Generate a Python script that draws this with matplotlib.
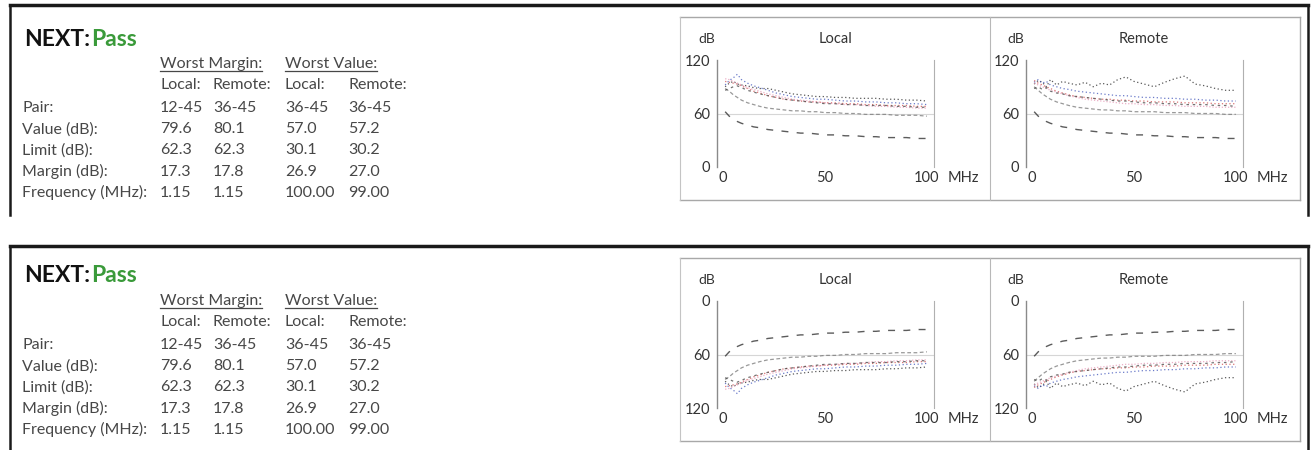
import matplotlib
matplotlib.use("Agg")
import matplotlib.pyplot as plt
from matplotlib.lines import Line2D

plt.rcParams['font.family'] = ['Lato', 'DejaVu Sans']

# ---------- data ----------
freq = [1, 3, 5, 7, 9, 12, 15, 18, 22, 26, 30, 34, 38, 42, 46, 50,
        55, 60, 65, 70, 75, 80, 85, 90, 95, 100]

next_limit = [62, 57, 54, 51, 49, 47, 45, 44, 42, 41, 40, 39, 38, 38, 37, 36,
              36, 35, 35, 34, 34, 33, 33, 33, 32, 32]

pairs = ["12-36", "12-45", "12-78", "36-45", "36-78", "45-78"]

local_12_36 = [90, 94, 96, 93, 92, 91, 89, 88, 88, 86, 84, 82, 81, 80, 79, 79,
               78, 78, 77, 77, 77, 76, 76, 75, 75, 74]
local_12_45 = [92, 97, 100, 104, 98, 94, 91, 89, 86, 83, 81, 79, 78, 77, 76, 76,
               75, 74, 74, 73, 73, 72, 72, 71, 71, 70]
local_12_78 = [96, 95, 94, 93, 91, 88, 85, 83, 80, 78, 76, 75, 74, 73, 73, 72,
               72, 71, 71, 70, 70, 69, 69, 69, 68, 68]
local_36_45 = [99, 98, 96, 94, 92, 89, 87, 85, 82, 80, 78, 76, 75, 74, 73, 72,
               71, 70, 70, 69, 68, 68, 67, 67, 66, 66]
local_36_78 = [88, 85, 81, 78, 75, 72, 70, 68, 66, 65, 64, 63, 63, 62, 62, 61,
               61, 60, 60, 59, 59, 59, 58, 58, 58, 57]
local_45_78 = [86, 88, 90, 91, 89, 86, 84, 82, 80, 78, 76, 75, 74, 73, 72, 71,
               71, 70, 70, 69, 69, 69, 68, 68, 67, 67]

remote_12_36 = [93, 97, 95, 90, 98, 92, 96, 94, 92, 95, 90, 94, 92, 98, 101, 96,
                93, 90, 95, 99, 102, 93, 91, 88, 86, 86]
remote_12_45 = [95, 98, 94, 96, 92, 90, 88, 87, 85, 84, 83, 82, 81, 80, 80, 79,
                78, 78, 77, 77, 76, 76, 75, 75, 74, 74]
remote_12_78 = [97, 94, 92, 90, 88, 85, 83, 81, 79, 78, 77, 76, 76, 75, 75, 74,
                74, 73, 73, 73, 72, 72, 72, 71, 71, 71]
remote_36_45 = [94, 92, 90, 88, 86, 84, 82, 80, 78, 76, 75, 74, 73, 72, 71, 71,
                70, 70, 69, 69, 68, 68, 68, 67, 67, 67]
remote_36_78 = [90, 86, 82, 79, 76, 73, 71, 69, 67, 66, 65, 64, 64, 63, 63, 62,
                62, 62, 61, 61, 61, 60, 60, 60, 59, 59]
remote_45_78 = [88, 90, 87, 89, 85, 83, 82, 80, 79, 78, 77, 76, 75, 74, 74, 73,
                72, 72, 71, 71, 70, 70, 70, 69, 69, 68]

local_traces = [local_12_36, local_12_45, local_12_78, local_36_45, local_36_78, local_45_78]
remote_traces = [remote_12_36, remote_12_45, remote_12_78, remote_36_45, remote_36_78, remote_45_78]

# summary table
row_labels = ["Pair:", "Value (dB):", "Limit (dB):", "Margin (dB):", "Frequency (MHz):"]
margin_local = ["12-45", "79.6", "62.3", "17.3", "1.15"]
margin_remote = ["36-45", "80.1", "62.3", "17.8", "1.15"]
value_local = ["36-45", "57.0", "30.1", "26.9", "100.00"]
value_remote = ["36-45", "57.2", "30.2", "27.0", "99.00"]

# trace styles (per pair)
trace_colors = ["#222222", "#3a4fb8", "#d04848", "#e597b5", "#777777", "#444444"]
trace_dashes = [(1, 2), (1, 2), (1, 2), (1, 1.5), (3, 2), (2, 3)]

# ---------- figure ----------
W, H = 1312, 450
fig = plt.figure(figsize=(W / 100, H / 100), dpi=100)
renderer = fig.canvas.get_renderer()
TXT = "#474747"


def fx(x):
    return x / W


def fy(y):
    return 1 - y / H


def line(xs, ys, **kw):
    fig.add_artist(Line2D([fx(x) for x in xs], [fy(y) for y in ys],
                          transform=fig.transFigure, **kw))


def right_px(t):
    # right edge of a text artist, in pixels
    return t.get_window_extent(renderer).x1


def draw_table(y0):
    t = fig.text(fx(24), fy(y0), "NEXT:", fontsize=16.5, fontweight="bold",
                 color="#111111", va="center", ha="left")
    fig.text(fx(right_px(t) + 1), fy(y0), "Pass", fontsize=16.5, fontweight="bold",
             color="#3a9a3a", va="center", ha="left")
    fs = 11.5
    for x, s in [(160, "Worst Margin:"), (285, "Worst Value:")]:
        h = fig.text(fx(x), fy(y0 + 25), s, fontsize=fs, color=TXT, va="center")
        line([x, right_px(h)], [y0 + 32, y0 + 32], color=TXT, lw=0.9)
    cols_x = [160, 213, 285, 348]
    for x, s in zip(cols_x, ["Local:", "Remote:", "Local:", "Remote:"]):
        fig.text(fx(x), fy(y0 + 46), s, fontsize=fs, color=TXT, va="center")
    cols = [margin_local, margin_remote, value_local, value_remote]
    for i, lab in enumerate(row_labels):
        yy = y0 + 69 + i * 21.2
        fig.text(fx(22), fy(yy), lab, fontsize=fs, color=TXT, va="center")
        for x, col in zip(cols_x, cols):
            fig.text(fx(x), fy(yy), col[i], fontsize=fs, color=TXT, va="center")


def draw_chart(left, box_top, title, traces, inverted):
    right = left + 217
    ax = fig.add_axes([fx(left), fy(box_top + 150), 217 / W, 107 / H])
    ax.axhline(60, color="#d6d6d6", lw=0.8, zorder=0)
    for vals, c, d in zip(traces, trace_colors, trace_dashes):
        ax.plot(freq, vals, color=c, lw=0.9, alpha=0.75, dashes=d)
    ax.plot(freq, next_limit, color="#333333", lw=1.0, alpha=0.8, dashes=(5, 6))
    ax.set_xlim(-3, 103.5)
    if inverted:
        ax.set_ylim(120, 0)
    else:
        ax.set_ylim(0, 120)
    ax.set_xticks([0, 50, 100])
    ax.set_yticks([0, 60, 120])
    ax.tick_params(length=0, labelsize=10.5, colors="#333333")
    ax.tick_params(axis="y", pad=5)
    ax.tick_params(axis="x", pad=3)
    for s in ["top", "bottom"]:
        ax.spines[s].set_visible(False)
    ax.spines["left"].set_color("#8a8a8a")
    ax.spines["right"].set_color("#b0b0b0")
    ax.spines["left"].set_linewidth(1.0)
    ax.spines["right"].set_linewidth(0.8)
    fig.text(fx(left - 10), fy(box_top + 22), "dB", fontsize=10, color="#333333",
             ha="center", va="center")
    fig.text(fx(left + 118), fy(box_top + 22), title, fontsize=10.5, color="#333333",
             ha="center", va="center")
    fig.text(fx(right + 29), fy(box_top + 161), "MHz", fontsize=10.5, color="#333333",
             ha="center", va="center")


panels = [
    # outer top, outer bottom, NEXT y, chart box top, inverted
    (5, 215, 39, 17, False),
    (246, 449, 276, 258, True),
]

for top, bottom, next_y, box_top, inverted in panels:
    # outer frame
    line([10, 1308], [top, top], color="#1a1a1a", lw=2.5)
    line([10, 10], [top, bottom], color="#1a1a1a", lw=1.8)
    line([1308, 1308], [top, bottom], color="#1a1a1a", lw=1.8)
    # chart box
    bb = box_top + 183
    line([680, 1300], [box_top, box_top], color="#a8a8a8", lw=1.0)
    line([680, 1300], [bb, bb], color="#a8a8a8", lw=1.0)
    line([680, 680], [box_top, bb], color="#c4c4c4", lw=0.8)
    line([1300, 1300], [box_top, bb], color="#a8a8a8", lw=1.0)
    line([990, 990], [box_top, bb], color="#b8b8b8", lw=0.8)

    draw_table(next_y)
    draw_chart(717, box_top, "Local", local_traces, inverted)
    draw_chart(1026, box_top, "Remote", remote_traces, inverted)

fig.savefig("out.png", dpi=100, facecolor="white")
